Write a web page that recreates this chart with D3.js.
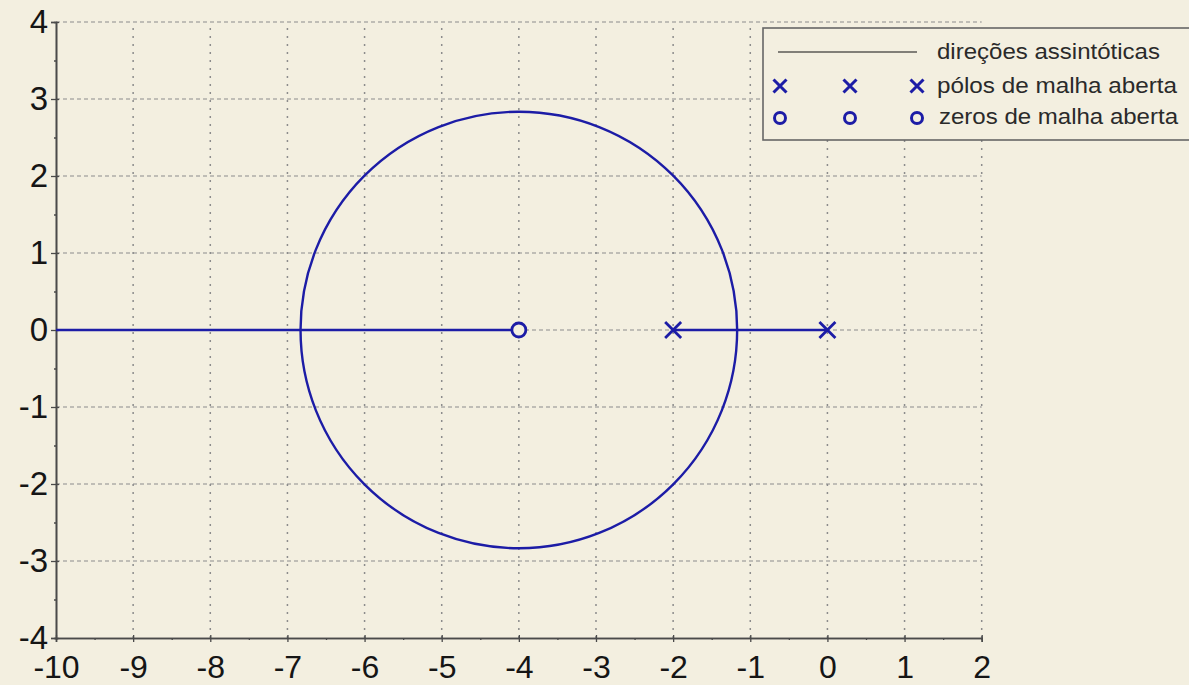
<!DOCTYPE html>
<html>
<head>
<meta charset="utf-8">
<script src="https://cdn.jsdelivr.net/npm/d3@7"></script>
<style>
  html, body { margin: 0; padding: 0; background: #f3efe0; }
  svg { display: block; }
  text { font-family: "Liberation Sans", Arial, sans-serif; }
</style>
</head>
<body>
<svg id="chart" width="1189" height="685"></svg>
<script>
// Root locus: open-loop poles, zeros and the locus branches in the s-plane
const xTicks = [-10, -9, -8, -7, -6, -5, -4, -3, -2, -1, 0, 1, 2];
const yTicks = [-4, -3, -2, -1, 0, 1, 2, 3, 4];
const xMinor = [-9.5, -8.5, -7.5, -6.5, -5.5, -4.5, -3.5, -2.5, -1.5, -0.5, 0.5, 1.5];
const yMinor = [-3.5, -2.5, -1.5, -0.5, 0.5, 1.5, 2.5, 3.5];

const poles = [[-2, 0], [0, 0]];
const zeros = [[-4, 0]];
// real-axis locus segments [from, to]
const realSegments = [[-10, -4], [-2, 0]];
// circular branch: centre and radius
const circleCenter = [-4, 0];
const circleRadius = 2.83;

const legendLabels = ["direções assintóticas", "pólos de malha aberta", "zeros de malha aberta"];

const blue = "#1c1ca6";
const svg = d3.select("#chart");

const x = d3.scaleLinear().domain([-10, 2]).range([56, 981.7]);
const y = d3.scaleLinear().domain([-4, 4]).range([638, 22]);

// grid
const grid = svg.append("g");
grid.selectAll("line.h").data(yTicks.filter(d => d > -4)).join("line")
  .attr("x1", x(-10)).attr("x2", x(2))
  .attr("y1", d => y(d)).attr("y2", d => y(d))
  .attr("stroke", "#8c8c8c").attr("stroke-width", 1.2)
  .attr("stroke-dasharray", "4,3");
grid.selectAll("line.v").data(xTicks.filter(d => d > -10)).join("line")
  .attr("x1", d => x(d)).attr("x2", d => x(d))
  .attr("y1", y(-4)).attr("y2", y(4))
  .attr("stroke", "#8c8c8c").attr("stroke-width", 1.5)
  .attr("stroke-dasharray", "2,6");

// axes
const fmt = d => String(d);
const xAxis = svg.append("g").attr("transform", `translate(0,${y(-4)})`)
  .call(d3.axisBottom(x).tickValues(xTicks).tickFormat(fmt).tickSize(4).tickPadding(13));
const xAxisMinor = svg.append("g").attr("transform", `translate(0,${y(-4)})`)
  .call(d3.axisBottom(x).tickValues(xMinor).tickFormat("").tickSize(2));
const yAxis = svg.append("g").attr("transform", `translate(${x(-10)},0)`)
  .call(d3.axisLeft(y).tickValues(yTicks).tickFormat(fmt).tickSize(5).tickPadding(3));
const yAxisMinor = svg.append("g").attr("transform", `translate(${x(-10)},0)`)
  .call(d3.axisLeft(y).tickValues(yMinor).tickFormat("").tickSize(2));

[xAxis, xAxisMinor, yAxis, yAxisMinor].forEach(a => {
  a.select(".domain").attr("stroke", "#4a4a4a").attr("stroke-width", 1.6);
  a.selectAll(".tick line").attr("stroke", "#4a4a4a").attr("stroke-width", 1.3);
});
xAxis.selectAll(".tick line").attr("y1", -3);
yAxis.selectAll(".tick line").attr("x1", 3);
xAxis.selectAll(".tick text")
  .attr("font-size", 32).attr("fill", "#151515")
  .attr("font-family", "'Liberation Sans', Arial, sans-serif");
yAxis.selectAll(".tick text")
  .attr("font-size", 33).attr("fill", "#151515")
  .attr("font-family", "'Liberation Sans', Arial, sans-serif");

// locus: real-axis branches
svg.append("g").selectAll("line").data(realSegments).join("line")
  .attr("x1", d => x(d[0])).attr("x2", d => x(d[1]))
  .attr("y1", y(0)).attr("y2", y(0))
  .attr("stroke", blue).attr("stroke-width", 2.6);

// locus: circular branch
svg.append("circle")
  .attr("cx", x(circleCenter[0])).attr("cy", y(circleCenter[1]))
  .attr("r", x(circleRadius) - x(0))
  .attr("fill", "none").attr("stroke", blue).attr("stroke-width", 2.4);

// markers
function drawCross(g, cx, cy, s, w) {
  g.append("path")
    .attr("d", `M${cx - s},${cy - s}L${cx + s},${cy + s}M${cx - s},${cy + s}L${cx + s},${cy - s}`)
    .attr("stroke", blue).attr("stroke-width", w).attr("fill", "none");
}
function drawRing(g, cx, cy, r, w) {
  g.append("circle").attr("cx", cx).attr("cy", cy).attr("r", r)
    .attr("fill", "#f3efe0").attr("stroke", blue).attr("stroke-width", w);
}
const marks = svg.append("g");
poles.forEach(p => drawCross(marks, x(p[0]), y(p[1]), 8, 2.8));
zeros.forEach(z => drawRing(marks, x(z[0]), y(z[1]), 7, 2.8));

// legend
const leg = svg.append("g");
leg.append("rect").attr("x", 763).attr("y", 28).attr("width", 500).attr("height", 112)
  .attr("fill", "#f3efe0").attr("stroke", "#666").attr("stroke-width", 1.6);
leg.append("line").attr("x1", 778).attr("x2", 917).attr("y1", 52).attr("y2", 52)
  .attr("stroke", "#111").attr("stroke-width", 1.2);
[780, 850, 917].forEach(cx => drawCross(leg, cx, 86, 6.5, 3));
[780, 850, 917].forEach(cx => drawRing(leg, cx, 118, 5.5, 3));
const legendRows = [
  { y: 59, x: 937, w: 223 },
  { y: 93, x: 937, w: 240 },
  { y: 124, x: 939, w: 239 }
];
leg.selectAll("text").data(legendLabels).join("text")
  .attr("x", (d, i) => legendRows[i].x)
  .attr("y", (d, i) => legendRows[i].y)
  .attr("textLength", (d, i) => legendRows[i].w)
  .attr("lengthAdjust", "spacingAndGlyphs")
  .attr("font-size", 22).attr("fill", "#2a2a2a")
  .text(d => d);
</script>
</body>
</html>
